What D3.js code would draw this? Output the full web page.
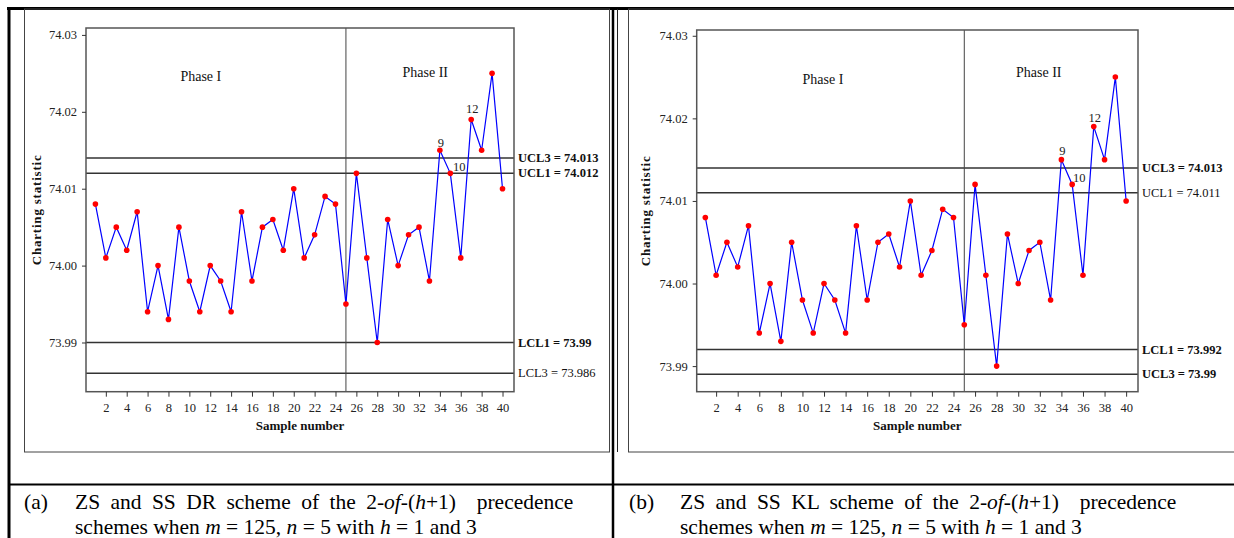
<!DOCTYPE html>
<html>
<head>
<meta charset="utf-8">
<script src="https://cdn.jsdelivr.net/npm/d3@7/dist/d3.min.js"></script>
<style>
  body { margin: 0; background: #fff; }
  svg { display: block; font-family: "Liberation Serif", "Times New Roman", serif; }
</style>
</head>
<body>
<div id="wrapper"></div>
<script>
// data (both panels plot the same statistic)
const sampleNumbers = [1, 2, 3, 4, 5, 6, 7, 8, 9, 10, 11, 12, 13, 14, 15, 16, 17, 18, 19, 20,
  21, 22, 23, 24, 25, 26, 27, 28, 29, 30, 31, 32, 33, 34, 35, 36, 37, 38, 39, 40];
const chartingStatistic = [74.008, 74.001, 74.005, 74.002, 74.007, 73.994, 74.000, 73.993, 74.005, 73.998,
  73.994, 74.000, 73.998, 73.994, 74.007, 73.998, 74.005, 74.006, 74.002, 74.010,
  74.001, 74.004, 74.009, 74.008, 73.995, 74.012, 74.001, 73.990, 74.006, 74.000,
  74.004, 74.005, 73.998, 74.015, 74.012, 74.001, 74.019, 74.015, 74.025, 74.010];
const xTickValues = [2, 4, 6, 8, 10, 12, 14, 16, 18, 20, 22, 24, 26, 28, 30, 32, 34, 36, 38, 40];
const yTickValues = [73.99, 74.00, 74.01, 74.02, 74.03];
const phaseSplit = 25;
const phaseLabels = ["Phase I", "Phase II"];
const signalSamples = [34, 35, 37];
const signalLabels = ["9", "10", "12"];

const limitValuesA = [74.014, 74.012, 73.990, 73.986];
const limitLabelsA = ["UCL3 = 74.013", "UCL1 = 74.012", "LCL1 = 73.99", "LCL3 = 73.986"];
const limitValuesB = [74.014, 74.011, 73.992, 73.989];
const limitLabelsB = ["UCL3 = 74.013", "UCL1 = 74.011", "LCL1 = 73.992", "UCL3 = 73.99"];

const captionA = [
  [["ZS and SS DR scheme of the 2-", false], ["of", true], ["-(", false], ["h", true], ["+1)  precedence", false]],
  [["schemes when ", false], ["m", true], [" = 125, ", false], ["n", true], [" = 5 with ", false], ["h", true], [" = 1 and 3", false]],
];
const captionB = [
  [["ZS and SS KL scheme of the 2-", false], ["of", true], ["-(", false], ["h", true], ["+1)  precedence", false]],
  [["schemes when ", false], ["m", true], [" = 125, ", false], ["n", true], [" = 5 with ", false], ["h", true], [" = 1 and 3", false]],
];

const width = 1234;
const height = 538;

const svg = d3.select("#wrapper")
  .append("svg")
  .attr("width", width)
  .attr("height", height);

// table frame
const frame = svg.append("g").attr("fill", "none");
frame.append("line").attr("x1", 7).attr("x2", width).attr("y1", 8.5).attr("y2", 8.5)
  .attr("stroke", "#000").attr("stroke-width", 3);
frame.append("line").attr("x1", 9).attr("x2", 9).attr("y1", 7).attr("y2", height)
  .attr("stroke", "#000").attr("stroke-width", 3);
frame.append("line").attr("x1", 613).attr("x2", 613).attr("y1", 7).attr("y2", height)
  .attr("stroke", "#000").attr("stroke-width", 2.5);
frame.append("line").attr("x1", 8).attr("x2", width).attr("y1", 484.5).attr("y2", 484.5)
  .attr("stroke", "#000").attr("stroke-width", 2);
frame.append("rect").attr("x", 24.5).attr("y", 9).attr("width", 585).attr("height", 443)
  .attr("stroke", "#444").attr("stroke-width", 1);
frame.append("line").attr("x1", 617.5).attr("x2", 617.5).attr("y1", 9).attr("y2", 452)
  .attr("stroke", "#222").attr("stroke-width", 1);
frame.append("rect").attr("x", 628.5).attr("y", 9).attr("width", 640).attr("height", 443)
  .attr("stroke", "#444").attr("stroke-width", 1);

function drawChart(cfg) {
  const xScale = d3.scaleLinear().domain(cfg.xDomain).range([cfg.left, cfg.right]);
  const yScale = d3.scaleLinear().domain(cfg.yDomain).range([cfg.bottom, cfg.top]);
  const g = svg.append("g");

  // limit lines
  cfg.limits.forEach((v, i) => {
    g.append("line")
      .attr("x1", cfg.left).attr("x2", cfg.right)
      .attr("y1", yScale(v)).attr("y2", yScale(v))
      .attr("stroke", "#333").attr("stroke-width", 1.5);
    g.append("text")
      .attr("x", cfg.right + 4)
      .attr("y", yScale(v))
      .attr("dy", "0.33em")
      .style("font-size", "12.5px")
      .style("font-weight", cfg.bold[i] ? "bold" : "normal")
      .style("fill", "#111")
      .text(cfg.limitLabels[i]);
  });

  // phase divider
  g.append("line")
    .attr("x1", xScale(phaseSplit)).attr("x2", xScale(phaseSplit))
    .attr("y1", cfg.top).attr("y2", cfg.bottom)
    .attr("stroke", "#444").attr("stroke-width", 1);

  phaseLabels.forEach((t, i) => {
    g.append("text")
      .attr("x", xScale(cfg.phasePos[i][0]))
      .attr("y", yScale(cfg.phasePos[i][1]))
      .attr("dy", "0.35em")
      .style("text-anchor", "middle")
      .style("font-size", "14px")
      .style("fill", "#111")
      .text(t);
  });

  // plot border
  g.append("rect")
    .attr("x", cfg.left).attr("y", cfg.top)
    .attr("width", cfg.right - cfg.left).attr("height", cfg.bottom - cfg.top)
    .attr("fill", "none").attr("stroke", "#555").attr("stroke-width", 1.5);

  // series
  const lineGenerator = d3.line()
    .x((d, i) => xScale(sampleNumbers[i]))
    .y((d) => yScale(d));
  g.append("path")
    .attr("d", lineGenerator(chartingStatistic))
    .attr("fill", "none")
    .attr("stroke", "#0000ff")
    .attr("stroke-width", 1.2);
  g.selectAll("circle.pt")
    .data(chartingStatistic)
    .join("circle")
    .attr("class", "pt")
    .attr("cx", (d, i) => xScale(sampleNumbers[i]))
    .attr("cy", (d) => yScale(d))
    .attr("r", 2.8)
    .attr("fill", "#ff0000");

  // signal annotations
  signalSamples.forEach((s, i) => {
    const v = chartingStatistic[sampleNumbers.indexOf(s)];
    g.append("text")
      .attr("x", xScale(s) + cfg.signalOffsets[i][0])
      .attr("y", yScale(v) + cfg.signalOffsets[i][1])
      .style("text-anchor", "middle")
      .style("font-size", "12.5px")
      .style("fill", "#222")
      .text(signalLabels[i]);
  });

  // axes
  const xAxis = g.append("g")
    .attr("transform", `translate(0, ${cfg.bottom})`)
    .call(d3.axisBottom(xScale).tickValues(xTickValues).tickSize(5).tickPadding(6).tickFormat(d3.format("d")));
  const yAxis = g.append("g")
    .attr("transform", `translate(${cfg.left}, 0)`)
    .call(d3.axisLeft(yScale).tickValues(yTickValues).tickSize(4).tickPadding(5).tickFormat(d3.format(".2f")));
  [xAxis, yAxis].forEach((a) => {
    a.select(".domain").remove();
    a.selectAll("line").attr("stroke", "#333");
    a.selectAll("text")
      .style("font-family", "'Liberation Serif', 'Times New Roman', serif")
      .style("font-size", "12.5px")
      .style("fill", "#222");
  });

  g.append("text")
    .attr("x", (cfg.left + cfg.right) / 2)
    .attr("y", cfg.bottom + 38)
    .style("text-anchor", "middle")
    .style("font-size", "13px")
    .style("font-weight", "bold")
    .style("fill", "#111")
    .text("Sample number");

  g.append("text")
    .attr("transform", `translate(${cfg.yTitleX}, ${(cfg.top + cfg.bottom) / 2}) rotate(-90)`)
    .style("text-anchor", "middle")
    .style("font-size", "13px")
    .style("letter-spacing", "0.8px")
    .style("font-weight", "bold")
    .style("fill", "#111")
    .text("Charting statistic");

  // caption
  cfg.caption.forEach((segments, li) => {
    if (li === 0) {
      svg.append("text")
        .attr("x", cfg.captionX)
        .attr("y", 509)
        .style("font-size", "21.5px")
        .text(cfg.captionTag);
    }
    const t = svg.append("text")
      .attr("x", cfg.captionX + 51)
      .attr("y", 509 + li * 25)
      .style("font-size", "21.5px")
      .style("word-spacing", li === 0 ? "5px" : "0px")
      .style("white-space", "pre");
    segments.forEach(([s, it]) => {
      t.append("tspan").style("font-style", it ? "italic" : "normal").text(s);
    });
  });
}

drawChart({
  left: 86, right: 514, top: 28, bottom: 391.7,
  xDomain: [0.1, 41.1], yDomain: [73.9836, 74.0309],
  limits: limitValuesA, limitLabels: limitLabelsA, bold: [true, true, true, false],
  phasePos: [[11.1, 74.0246], [32.6, 74.0251]],
  signalOffsets: [[1, -3.5], [9, -2], [1, -6.5]],
  yTitleX: 41,
  caption: captionA, captionX: 24, captionTag: "(a)",
});

drawChart({
  left: 696.7, right: 1138, top: 30, bottom: 391.7,
  xDomain: [0.2, 41.1], yDomain: [73.9869, 74.0307],
  limits: limitValuesB, limitLabels: limitLabelsB, bold: [true, false, true, true],
  phasePos: [[11.9, 74.0248], [31.9, 74.0256]],
  signalOffsets: [[1, -4.5], [7, -2.5], [1, -4.5]],
  yTitleX: 650,
  caption: captionB, captionX: 629, captionTag: "(b)",
});
</script>
</body>
</html>
